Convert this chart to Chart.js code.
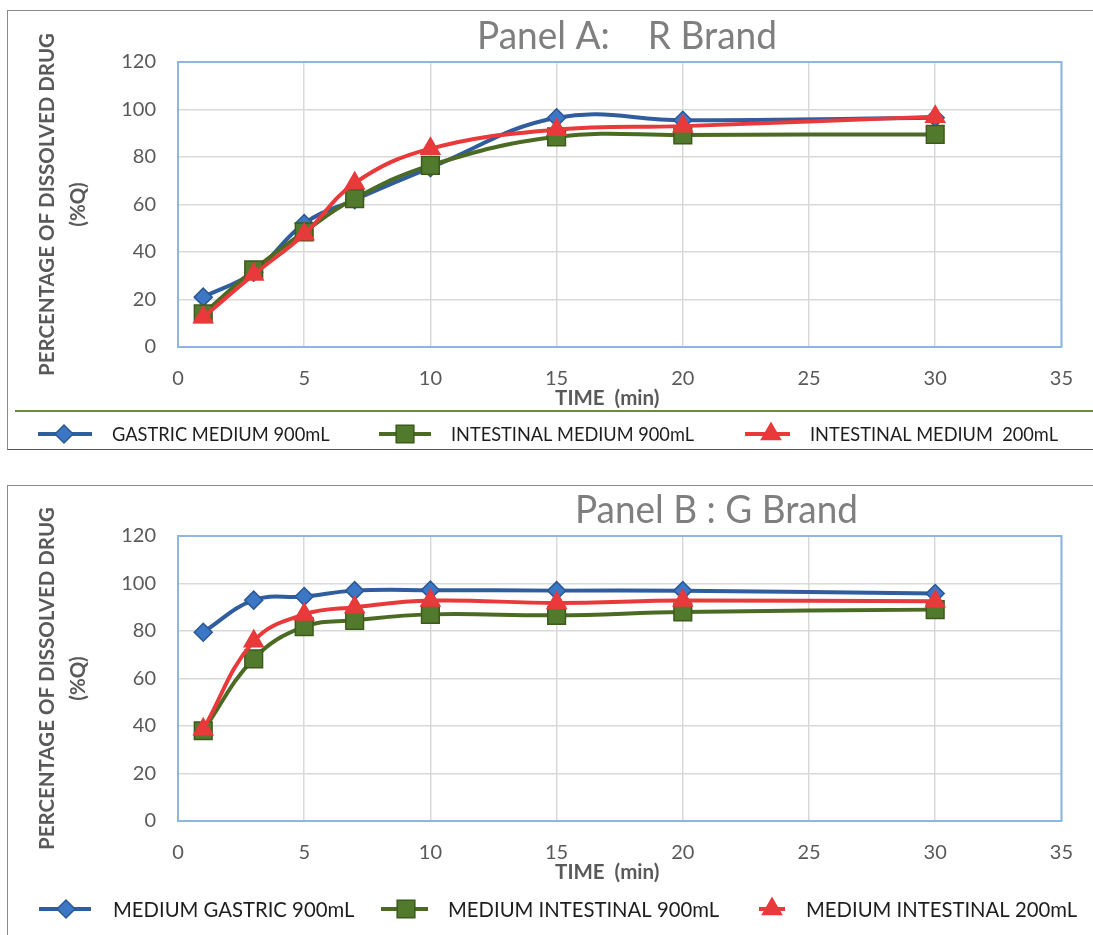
<!DOCTYPE html>
<html><head><meta charset="utf-8">
<script src="https://cdn.jsdelivr.net/npm/chart.js@4.4.1/dist/chart.umd.min.js"></script>
<style>
html,body{margin:0;padding:0;background:#fff;width:1093px;height:935px;overflow:hidden;font-family:Lato}
</style></head><body>
<div style="position:absolute;left:7px;top:9.5px;width:1100px;height:438px;border:1.5px solid #8a8a8a;border-bottom-color:#555;"></div>
<div style="position:absolute;left:15px;top:410px;width:1090px;height:0;border-top:2px solid #6b8a45"></div>
<div style="position:absolute;left:7px;top:485px;width:1100px;height:500px;border:1.5px solid #8a8a8a;"></div>
<div style="position:absolute;left:0;top:0;width:1093px;height:460px"><canvas id="cA"></canvas></div>
<div style="position:absolute;left:0;top:476px;width:1093px;height:459px"><canvas id="cB"></canvas></div>
<script>
// ---- data ----
const times = [1, 3, 5, 7, 10, 15, 20, 30];
const xTicks = [0, 5, 10, 15, 20, 25, 30, 35];
const yTicks = [0, 20, 40, 60, 80, 100, 120];

const titleA = 'Panel A:    R Brand';
const namesA = ['GASTRIC MEDIUM 900mL', 'INTESTINAL MEDIUM 900mL', 'INTESTINAL MEDIUM  200mL'];
const gastricA = [21, 31.5, 52, 62, 75.5, 96.5, 95.5, 96.5];
const intestinal900A = [14, 32.5, 48.5, 62.5, 76.5, 88.5, 89.3, 89.5];
const intestinal200A = [12.5, 30.5, 47.5, 69, 83.5, 91.5, 93, 97];

const titleB = 'Panel B : G Brand';
const namesB = ['MEDIUM GASTRIC 900mL', 'MEDIUM INTESTINAL 900mL', 'MEDIUM INTESTINAL 200mL'];
const gastricB = [79.5, 93, 94.5, 97, 97.2, 97, 97, 95.8];
const intestinal900B = [38, 68.3, 81.8, 84.5, 87, 86.6, 88, 89];
const intestinal200B = [38.6, 75.7, 87, 90, 92.8, 91.8, 92.8, 92.5];

const yTitle = ['PERCENTAGE OF DISSOLVED DRUG', '(%Q)'];
const xTitle = 'TIME  (min)';

// ---- styles ----
Chart.defaults.font.family = 'Lato';
const styles = [
  {line:'#2f5d9e', fill:'#3b77c4', border:'#2c5895', pointStyle:'rectRot', radius:9, order:3},
  {line:'#4b6b24', fill:'#527a2c', border:'#3d5a1c', pointStyle:'rect', radius:12.5, order:2},
  {line:'#e8393b', fill:'#e8393b', border:'#e8393b', pointStyle:'triangle', radius:11, order:1}
];

function drawMarker(ctx, st, x, y){
  ctx.save();
  ctx.fillStyle = st.fill; ctx.strokeStyle = st.border; ctx.lineWidth = 1.5;
  ctx.beginPath();
  const r = st.radius;
  if (st.pointStyle === 'rectRot'){
    ctx.moveTo(x-r,y); ctx.lineTo(x,y-r); ctx.lineTo(x+r,y); ctx.lineTo(x,y+r);
  } else if (st.pointStyle === 'rect'){
    const s = r*Math.SQRT1_2; ctx.rect(x-s,y-s,2*s,2*s);
  } else {
    let a = 0;
    for (let k=0;k<3;k++){ const px=x+Math.sin(a)*r, py=y-Math.cos(a)*r; k?ctx.lineTo(px,py):ctx.moveTo(px,py); a+=2*Math.PI/3; }
  }
  ctx.closePath(); ctx.fill(); ctx.stroke();
  ctx.restore();
}

const decor = {
  id: 'decor',
  beforeDatasetsDraw(chart, args, o){
    const {ctx, chartArea:a} = chart;
    ctx.save(); ctx.strokeStyle = '#8db6e3'; ctx.lineWidth = 2;
    ctx.strokeRect(a.left, a.top, a.right-a.left, a.bottom-a.top); ctx.restore();
  },
  afterDraw(chart, args, o){
    const ctx = chart.ctx;
    ctx.save();
    ctx.font = o.titleFont; ctx.fillStyle = '#7f7f7f';
    ctx.textAlign = 'left'; ctx.textBaseline = 'alphabetic';
    ctx.fillText(o.title, o.titleX, o.titleY, o.titleW);
    o.legend.forEach((it, i) => {
      const st = styles[i];
      ctx.strokeStyle = st.line; ctx.lineWidth = 4;
      ctx.beginPath(); ctx.moveTo(it.x1, o.legendY); ctx.lineTo(it.x2, o.legendY); ctx.stroke();
      drawMarker(ctx, st, it.mx, o.legendY);
      ctx.font = o.legendFont; ctx.fillStyle = '#1e1e1e';
      ctx.textAlign = 'left'; ctx.textBaseline = 'middle';
      ctx.fillText(o.names[i], it.tx, o.legendY + 1.5, it.tw);
    });
    ctx.restore();
  }
};

function makeChart(id, series, names, deco, pad){
  const datasets = series.map((vals, i) => ({
    label: names[i],
    data: times.map((t, j) => ({x: t, y: vals[j]})),
    borderColor: styles[i].line,
    backgroundColor: styles[i].fill,
    pointBackgroundColor: styles[i].fill,
    pointBorderColor: styles[i].border,
    pointBorderWidth: 1.5,
    pointStyle: styles[i].pointStyle,
    pointRadius: styles[i].radius,
    borderWidth: 4,
    tension: 0.4,
    order: styles[i].order
  }));
  deco.names = names;
  return new Chart(document.getElementById(id), {
    type: 'line',
    data: {datasets},
    plugins: [decor],
    options: {
      responsive: true, maintainAspectRatio: false, animation: false,
      layout: {padding: pad},
      plugins: {legend: {display:false}, tooltip: {enabled:false}, title:{display:false}, decor: deco},
      scales: {
        x: {
          type: 'linear', min: 0, max: 35,
          afterBuildTicks: s => { s.ticks = xTicks.map(v => ({value: v})); },
          afterFit: s => { s.height = 63; },
          grid: {color: '#d9d9d9', lineWidth: 1.5, drawTicks: false},
          border: {display: false},
          ticks: {color: '#595959', font: {size: 20}, padding: 20, maxRotation: 0},
          title: {display: true, text: xTitle + '     ', color: '#595959', font: {size: 20.5, weight: 'bold', lineHeight: 1.1}, padding: {top:0, bottom:0}}
        },
        y: {
          min: 0, max: 120,
          afterBuildTicks: s => { s.ticks = yTicks.map(v => ({value: v})); },
          afterFit: s => { s.width = 178; },
          grid: {color: '#d9d9d9', lineWidth: 1.5, drawTicks: false},
          border: {display: false},
          ticks: {color: '#595959', font: {size: 20}, padding: 22},
          title: {display: true, text: yTitle, color: '#595959', font: {size: 20.5, weight: 'bold', lineHeight: 1.52}, padding: {top: 32, bottom: 0}}
        }
      }
    }
  });
}

makeChart('cA', [gastricA, intestinal900A, intestinal200A], namesA, {
  title: titleA, titleFont: '38px Lato', titleX: 477, titleY: 49, titleW: 300,
  legendY: 434, legendFont: '18.3px Lato',
  legend: [
    {x1: 38, x2: 92, mx: 64, tx: 112, tw: 220},
    {x1: 379, x2: 431, mx: 405, tx: 451, tw: 243},
    {x1: 745, x2: 790, mx: 771, tx: 810, tw: 248}
  ]
}, {top: 62, right: 29, left: 0, bottom: 50});

makeChart('cB', [gastricB, intestinal900B, intestinal200B], namesB, {
  title: titleB, titleFont: '38px Lato', titleX: 575, titleY: 47, titleW: 283,
  legendY: 433, legendFont: '20.3px Lato',
  legend: [
    {x1: 39, x2: 91, mx: 66, tx: 113, tw: 245},
    {x1: 381, x2: 428, mx: 406, tx: 448, tw: 274},
    {x1: 759, x2: 785, mx: 772, tx: 806, tw: 274}
  ]
}, {top: 60, right: 29, left: 0, bottom: 51});
</script>
</body></html>
